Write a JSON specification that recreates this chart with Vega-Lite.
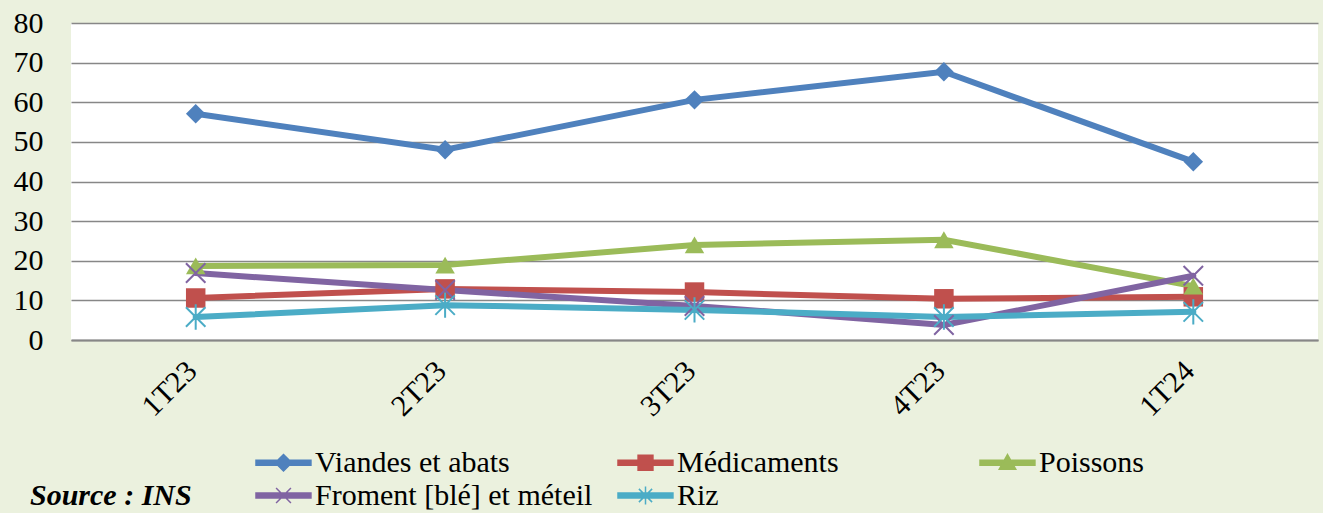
{
  "$schema": "https://vega.github.io/schema/vega-lite/v6.json",
  "width": 1247,
  "height": 317,
  "autosize": {"type": "none"},
  "padding": {"left": 71, "top": 23, "right": 5, "bottom": 173},
  "background": "#EBF1DE",
  "config": {
    "view": {"fill": "white", "stroke": null},
    "font": "Liberation Serif"
  },
  "title": {
    "text": "Source : INS",
    "orient": "bottom",
    "anchor": "start",
    "frame": "group",
    "dx": -41,
    "offset": -30,
    "font": "Liberation Serif",
    "fontSize": 30,
    "fontStyle": "italic",
    "fontWeight": "bold",
    "color": "black"
  },
  "data": {
    "values": [
      {"series": "Viandes et abats", "quarter": "1T23", "value": 57.1},
      {"series": "Viandes et abats", "quarter": "2T23", "value": 48.0},
      {"series": "Viandes et abats", "quarter": "3T23", "value": 60.6},
      {"series": "Viandes et abats", "quarter": "4T23", "value": 67.7},
      {"series": "Viandes et abats", "quarter": "1T24", "value": 45.0},
      {"series": "Médicaments", "quarter": "1T23", "value": 10.6},
      {"series": "Médicaments", "quarter": "2T23", "value": 12.9},
      {"series": "Médicaments", "quarter": "3T23", "value": 12.1},
      {"series": "Médicaments", "quarter": "4T23", "value": 10.4},
      {"series": "Médicaments", "quarter": "1T24", "value": 10.9},
      {"series": "Poissons", "quarter": "1T23", "value": 18.7},
      {"series": "Poissons", "quarter": "2T23", "value": 18.9},
      {"series": "Poissons", "quarter": "3T23", "value": 24.0},
      {"series": "Poissons", "quarter": "4T23", "value": 25.3},
      {"series": "Poissons", "quarter": "1T24", "value": 13.6},
      {"series": "Froment [blé] et méteil", "quarter": "1T23", "value": 16.9},
      {"series": "Froment [blé] et méteil", "quarter": "2T23", "value": 12.6},
      {"series": "Froment [blé] et méteil", "quarter": "3T23", "value": 8.6},
      {"series": "Froment [blé] et méteil", "quarter": "4T23", "value": 3.8},
      {"series": "Froment [blé] et méteil", "quarter": "1T24", "value": 16.2},
      {"series": "Riz", "quarter": "1T23", "value": 5.8},
      {"series": "Riz", "quarter": "2T23", "value": 8.8},
      {"series": "Riz", "quarter": "3T23", "value": 7.6},
      {"series": "Riz", "quarter": "4T23", "value": 5.8},
      {"series": "Riz", "quarter": "1T24", "value": 7.1}
    ]
  },
  "encoding": {
    "x": {
      "field": "quarter",
      "type": "ordinal",
      "sort": ["1T23", "2T23", "3T23", "4T23", "1T24"],
      "scale": {"type": "point", "padding": 0.5},
      "axis": {
        "title": null,
        "labelAngle": -45,
        "labelAlign": "right",
        "labelBaseline": "middle",
        "labelPadding": 26,
        "labelOffset": -4,
        "ticks": false,
        "grid": false,
        "domain": true,
        "domainColor": "#878787",
        "domainWidth": 2,
        "labelFont": "Liberation Serif",
        "labelFontSize": 30,
        "labelColor": "black"
      }
    },
    "y": {
      "field": "value",
      "type": "quantitative",
      "scale": {"domain": [0, 80], "nice": false},
      "axis": {
        "title": null,
        "values": [0, 10, 20, 30, 40, 50, 60, 70, 80],
        "ticks": false,
        "domain": false,
        "labelPadding": 28,
        "labelFont": "Liberation Serif",
        "labelFontSize": 30,
        "labelColor": "black",
        "gridColor": "#878787",
        "gridWidth": 1.5
      }
    }
  },
  "layer": [
    {
      "mark": {"type": "line", "strokeWidth": 6, "strokeCap": "round"},
      "encoding": {
        "color": {
          "field": "series",
          "type": "nominal",
          "scale": {
            "domain": ["Viandes et abats", "Médicaments", "Poissons", "Froment [blé] et méteil", "Riz"],
            "range": ["#4F81BD", "#C0504D", "#9BBB59", "#8064A2", "#4BACC6"]
          },
          "legend": {
            "title": null,
            "orient": "none",
            "direction": "horizontal",
            "legendX": 184,
            "legendY": 422,
            "columns": 3,
            "gridAlign": "all",
            "columnPadding": 22,
            "rowPadding": -1,
            "padding": 0,
            "symbolSize": 1089,
            "symbolStrokeWidth": 1.5,
            "labelOffset": 25,
            "labelLimit": 500,
            "labelFont": "Liberation Serif",
            "labelFontSize": 30,
            "labelColor": "black",
            "encode": {
              "symbols": {
                "update": {
                  "shape": {"signal": "datum.value == 'Viandes et abats' ? 'M-1,-0.15H2.33V0.15H-1Z M0.667,-0.5L1.167,0L0.667,0.5L0.167,0Z' : datum.value == 'Médicaments' ? 'M-1,-0.15H2.33V0.15H-1Z M0.217,-0.45H1.117V0.45H0.217Z' : datum.value == 'Poissons' ? 'M-1,-0.15H2.33V0.15H-1Z M0.667,-0.5L1.167,0.4H0.167Z' : datum.value == 'Riz' ? 'M-1,-0.15H2.33V0.15H-1Z M0.267,-0.4L1.067,0.4M0.267,0.4L1.067,-0.4M0.667,-0.55V0.55' : 'M-1,-0.15H2.33V0.15H-1Z M0.217,-0.45L1.117,0.45M0.217,0.45L1.117,-0.45'"},
                  "fill": {"scale": "color", "field": "value"},
                  "stroke": {"scale": "color", "field": "value"},
                  "strokeWidth": {"value": 1.5},
                  "opacity": {"value": 1},
                  "fillOpacity": {"value": 1},
                  "strokeOpacity": {"value": 1}
                }
              }
            }
          }
        }
      }
    },
    {
      "transform": [{"filter": {"field": "series", "equal": "Viandes et abats"}}],
      "mark": {"type": "point", "shape": "diamond", "filled": true, "size": 380, "opacity": 1, "color": "#4F81BD"}
    },
    {
      "transform": [{"filter": {"field": "series", "equal": "Médicaments"}}],
      "mark": {"type": "point", "shape": "square", "filled": true, "size": 380, "opacity": 1, "color": "#C0504D"}
    },
    {
      "transform": [{"filter": {"field": "series", "equal": "Poissons"}}],
      "mark": {"type": "point", "shape": "triangle-up", "filled": true, "size": 380, "opacity": 1, "color": "#9BBB59"}
    },
    {
      "transform": [{"filter": {"field": "series", "equal": "Froment [blé] et méteil"}}],
      "mark": {"type": "point", "shape": "M-1,-1L1,1M-1,1L1,-1", "filled": false, "size": 380, "opacity": 1, "color": "#8064A2", "strokeWidth": 2}
    },
    {
      "transform": [{"filter": {"field": "series", "equal": "Riz"}}],
      "mark": {"type": "point", "shape": "M-1,-1L1,1M-1,1L1,-1M0,-1.3V1.3", "filled": false, "size": 380, "opacity": 1, "color": "#4BACC6", "strokeWidth": 2}
    }
  ]
}
